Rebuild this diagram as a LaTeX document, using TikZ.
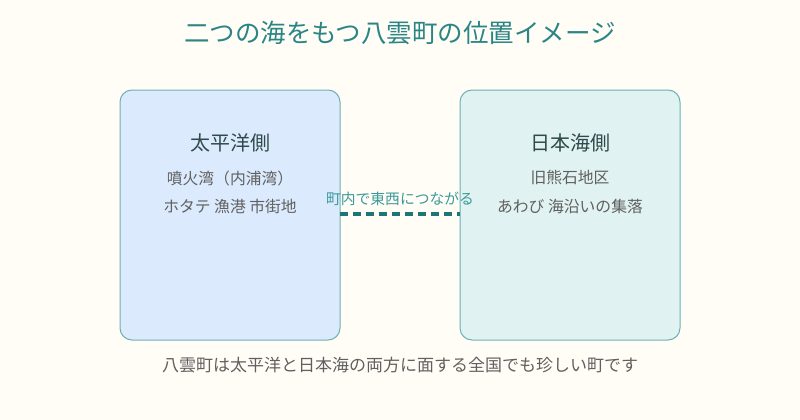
\documentclass[tikz,border=0pt]{standalone}
\usepackage{fontspec}
\setmainfont{Noto Sans CJK JP}
\newfontfamily\cjk{Noto Sans CJK JP}
\definecolor{bgc}{HTML}{FFFDF6}
\definecolor{titlec}{HTML}{2A8585}
\definecolor{edgec}{HTML}{6BB3B3}
\definecolor{leftfill}{HTML}{DCEAFD}
\definecolor{rightfill}{HTML}{E0F2F1}
\definecolor{headc}{HTML}{2F4A4A}
\definecolor{subc}{HTML}{606060}
\definecolor{linkc}{HTML}{1D7575}
\definecolor{linklabc}{HTML}{3A9A9A}
\begin{document}
\begin{tikzpicture}[x=1pt,y=-1pt,
  panel/.style={draw=edgec,line width=1pt,rounded corners=12pt},
  headtext/.style={font=\cjk\fontsize{20}{22}\selectfont,text=headc,inner sep=0pt},
  subtext/.style={font=\cjk\fontsize{15.8}{18}\selectfont,text=subc,inner sep=0pt},
  link/.style={draw=linkc,line width=4pt,dash pattern=on 8pt off 5pt},
  linklabel/.style={font=\cjk\fontsize{14.8}{17}\selectfont,text=linklabc,inner sep=0pt}]
\fill[bgc] (0,0) rectangle (800,420);
\useasboundingbox (0,0) rectangle (800,420);
\node[font=\cjk\fontsize{25.5}{28}\selectfont,text=titlec,inner sep=0pt] (title) at (400,33) {二つの海をもつ八雲町の位置イメージ};
\path[panel,fill=leftfill] (120,90) rectangle (340,340);
\path[panel,fill=rightfill] (460,90) rectangle (680,340);
\coordinate (lr) at (340,214);
\coordinate (rl) at (460,214);
\node[headtext] (lh) at (230,143) {太平洋側};
\node[subtext] (l1) at (230,178) {噴火湾（内浦湾）};
\node[subtext] (l2) at (230,206) {ホタテ 漁港 市街地};
\node[headtext] (rh) at (570,143) {日本海側};
\node[subtext] (r1) at (570,178) {旧熊石地区};
\node[subtext] (r2) at (570,206) {あわび 海沿いの集落};
\draw[link] (lr) -- (rl);
\node[linklabel] (ll) at (400,199) {町内で東西につながる};
\node[font=\cjk\fontsize{17}{19}\selectfont,text=subc,inner sep=0pt] (foot) at (400,365) {八雲町は太平洋と日本海の両方に面する全国でも珍しい町です};
\end{tikzpicture}
\end{document}
